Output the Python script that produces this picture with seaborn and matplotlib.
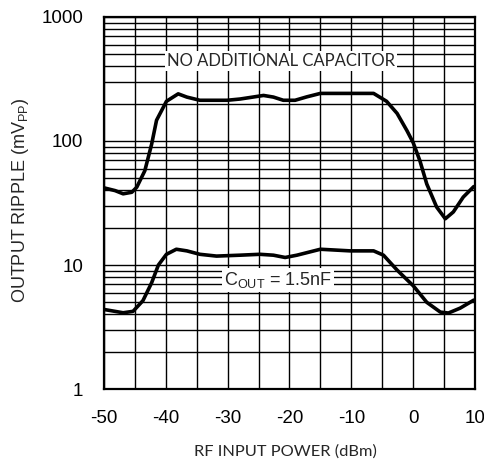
import numpy as np
import pandas as pd
import seaborn as sns
import matplotlib
matplotlib.use("Agg")
import matplotlib.pyplot as plt
from matplotlib.ticker import MultipleLocator, LogLocator, FixedLocator, FixedFormatter, NullFormatter

# Data.
# Upper curve: no additional capacitor.
x_nocap = [-50, -48.2, -46.9, -45.5, -44.7, -43.4, -42.3, -41.5, -39.9, -38.0,
           -36.6, -34.5, -30.1, -28.0, -24.2, -22.6, -21.0, -19.1, -17.2, -15.0,
           -6.4, -4.3, -2.6, -1.0, 0.0, 1.1, 2.2, 3.8, 5.2, 6.5, 8.1, 9.8]
y_nocap = [41.9, 39.8, 37.5, 38.6, 42.4, 57.5, 94, 147, 209, 240,
           226, 213, 213, 218, 233, 226, 213, 213, 227, 242,
           242, 209, 167, 121, 97, 69, 45, 29.3, 23.6, 26.8, 35.3, 42.9]
# Lower curve: COUT = 1.5nF.
x_cout = [-50, -46.9, -45.3, -43.7, -42.3, -41.2, -39.9, -38.3, -36.6, -34.5,
          -31.8, -28.0, -24.8, -22.6, -20.7, -18.8, -15.0, -10.2, -6.4, -4.8,
          -2.6, 0.05, 2.2, 4.4, 5.7, 7.6, 9.8]
y_cout = [4.38, 4.12, 4.23, 5.16, 7.18, 10.0, 12.2, 13.4, 13.0, 12.2,
          11.8, 12.0, 12.2, 12.0, 11.5, 12.0, 13.4, 13.0, 13.0, 12.0,
          9.1, 6.77, 5.0, 4.17, 4.1, 4.49, 5.21]

x_ticks = [-50, -40, -30, -20, -10, 0, 10]
y_ticks = [1, 10, 100, 1000]
y_tick_labels = ["1", "10", "100", "1000"]

sns.set_theme(style="white")
plt.rcParams['font.family'] = ['Liberation Sans', 'DejaVu Sans']
plt.rcParams['axes.unicode_minus'] = False     # plain hyphen like the reference
plt.rcParams['mathtext.fontset'] = 'custom'
plt.rcParams['mathtext.rm'] = 'Liberation Sans'
plt.rcParams['mathtext.default'] = 'regular'

fig = plt.figure(figsize=(4.85, 4.63), dpi=100)
ax = fig.add_axes([0.2144, 0.1598, 0.765, 0.8035])

sns.lineplot(x=x_nocap, y=y_nocap, ax=ax, color="black", lw=2.6, zorder=4)
sns.lineplot(x=x_cout, y=y_cout, ax=ax, color="black", lw=2.6, zorder=4)

ax.set_yscale("log")
ax.set_xlim(-50, 10)
ax.set_ylim(1, 1000)

# grid: every 5 dBm, and 1..9 per decade
ax.xaxis.set_major_locator(FixedLocator(x_ticks))
ax.xaxis.set_minor_locator(MultipleLocator(5))
ax.yaxis.set_major_locator(FixedLocator(y_ticks))
ax.yaxis.set_major_formatter(FixedFormatter(y_tick_labels))
ax.yaxis.set_minor_locator(LogLocator(base=10, subs=np.arange(2, 10)))
ax.yaxis.set_minor_formatter(NullFormatter())
ax.grid(which="both", color="black", lw=1.0, zorder=1)
ax.set_axisbelow(True)
ax.tick_params(which="both", length=0, labelsize=13.5, pad=15, colors="black")

for s in ax.spines.values():
    s.set_color("black")
    s.set_linewidth(1.6)

# labels on the curves
ax.text(-21.4, 442, "NO ADDITIONAL CAPACITOR", ha="center", va="center",
        fontsize=12, family=["Lato", "DejaVu Sans"], zorder=3,
        bbox=dict(facecolor="white", edgecolor="none", pad=1.5))
ax.text(-21.9, 7.6, "$C_{OUT}$ = 1.5nF", ha="center", va="center",
        fontsize=13, zorder=3,
        bbox=dict(facecolor="white", edgecolor="none", pad=1.5))

ax.set_xlabel("RF INPUT POWER (dBm)", fontsize=11.8, family=["Lato", "DejaVu Sans"])
ax.set_ylabel("OUTPUT RIPPLE (mV$_{PP}$)", fontsize=13)
ax.xaxis.set_label_coords(0.488, -0.15)
ax.yaxis.set_label_coords(-0.197, 0.508)

fig.savefig("out.png", dpi=100)
